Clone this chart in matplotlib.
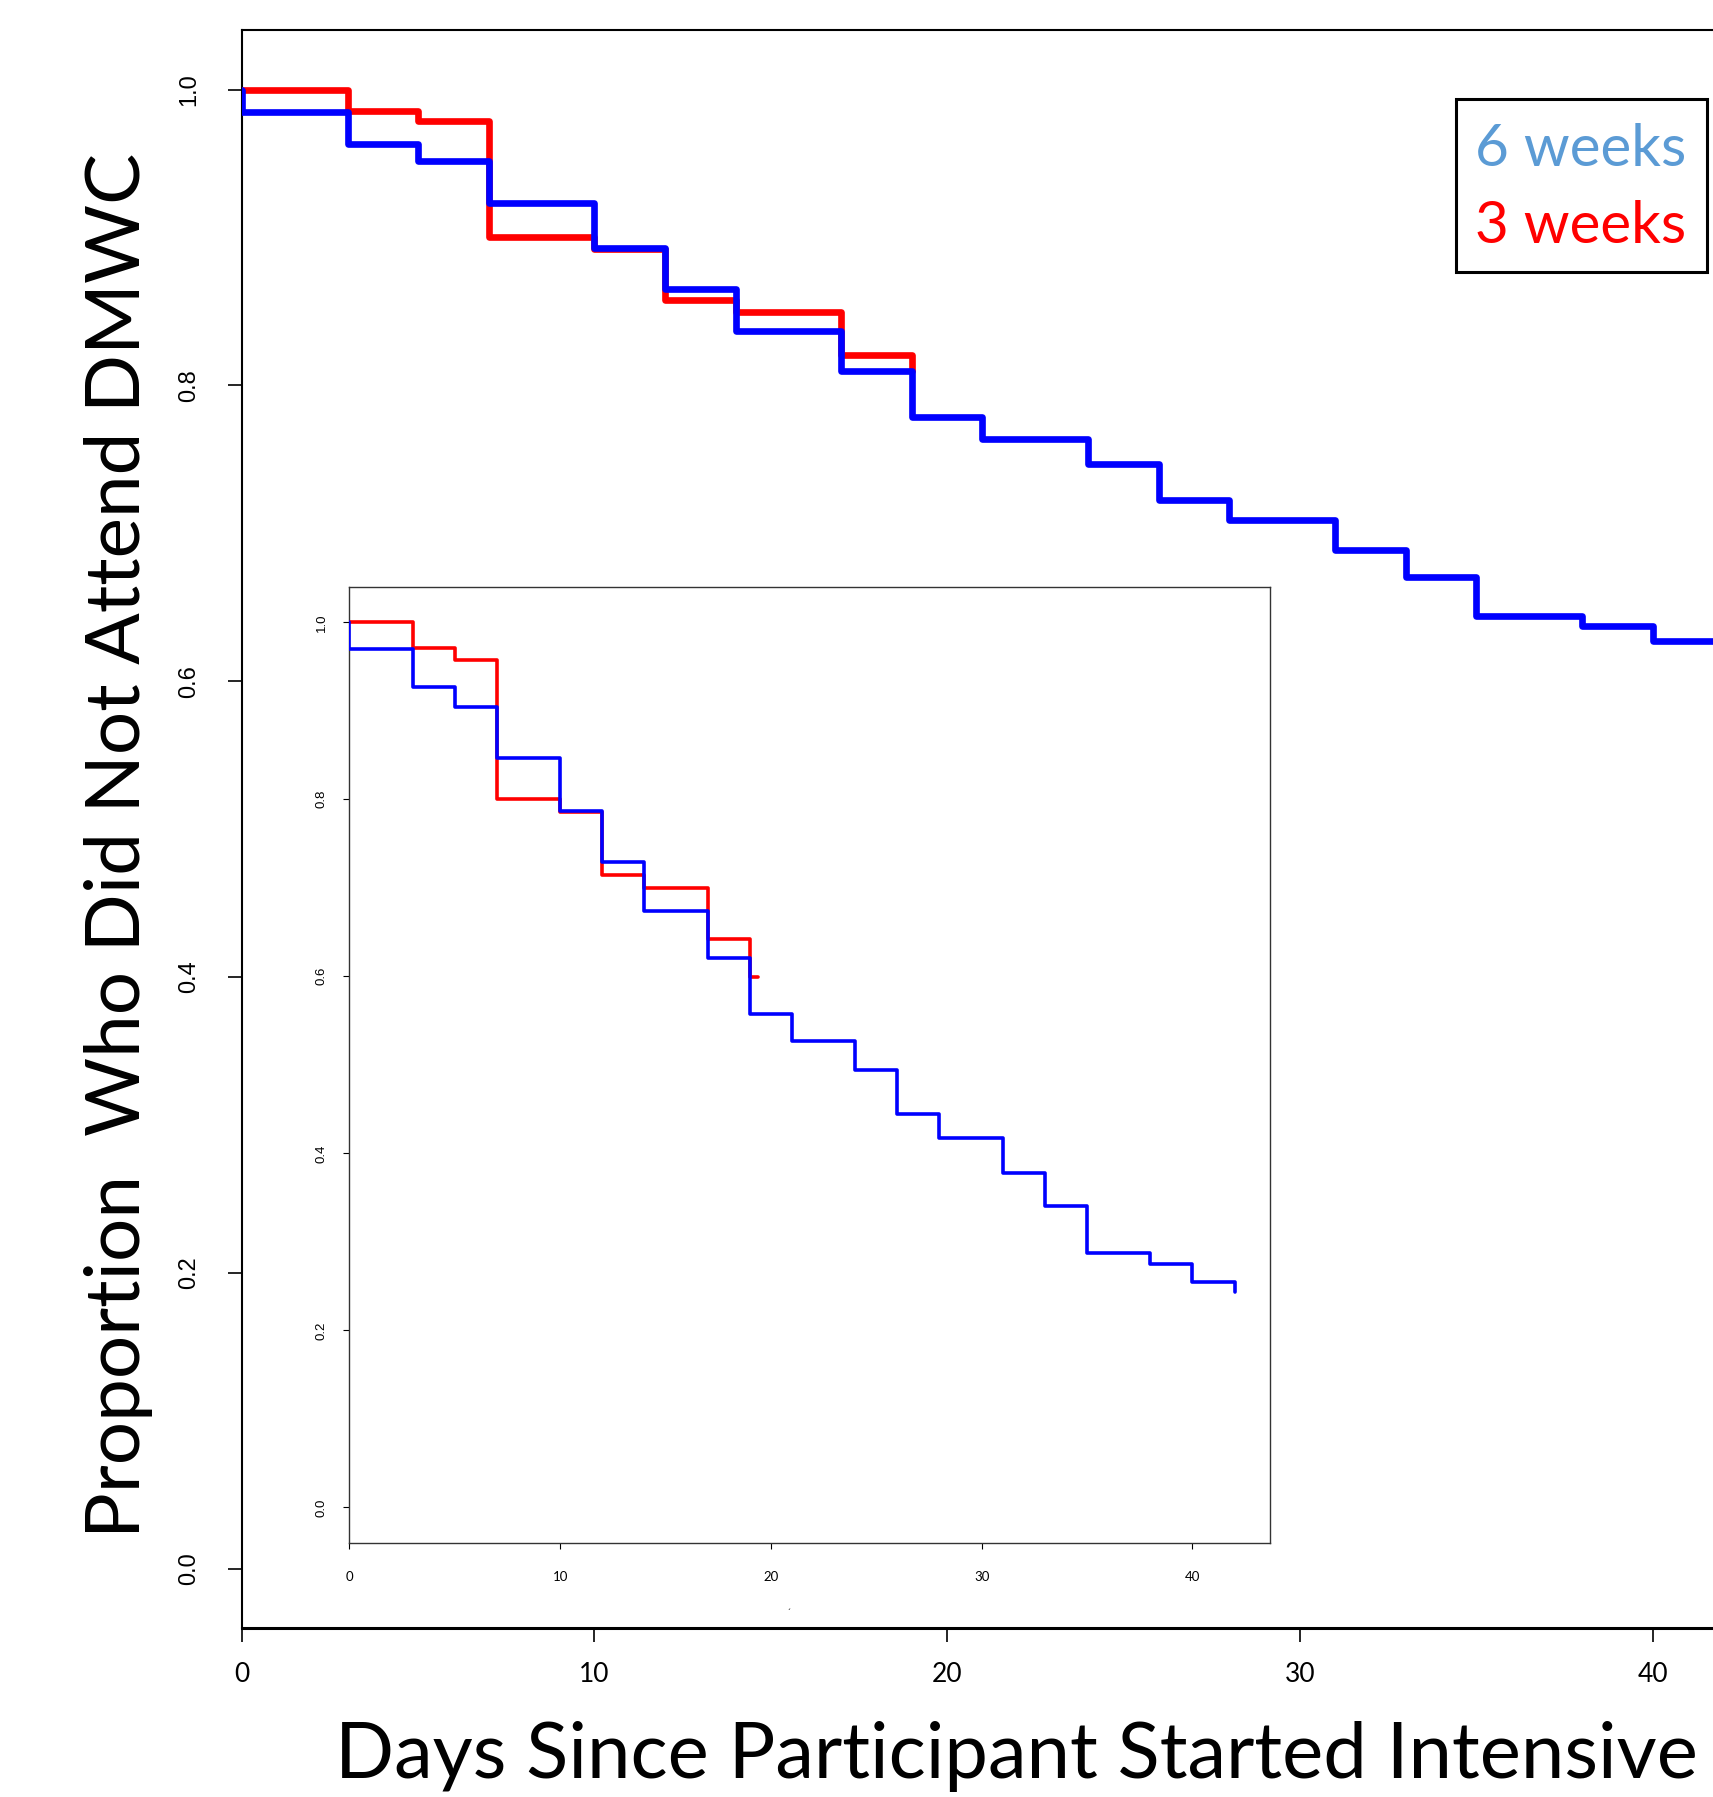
import matplotlib
matplotlib.use("Agg")
import matplotlib.pyplot as plt
from matplotlib.patches import Rectangle

# main panel: Kaplan-Meier style step curves (days, proportion not attending)
blue_days = [0, 0, 3, 5, 7, 10, 12, 14, 17, 19, 21, 24, 26, 28, 31, 33, 35, 38, 40, 42]
blue_surv = [1.0, 0.985, 0.9635, 0.9515, 0.9234, 0.893, 0.865, 0.8365, 0.810, 0.7787,
             0.7634, 0.7467, 0.7224, 0.7088, 0.689, 0.6705, 0.6439, 0.6372, 0.627, 0.622]
red_days = [0, 3, 5, 7, 10, 12, 14, 17, 19]
red_surv = [1.0, 0.9858, 0.9786, 0.9004, 0.8925, 0.8576, 0.8497, 0.8208, 0.81]

# inset panel (pasted smaller plot)
inset_blue_days = [0, 0, 3, 5, 7, 10, 12, 14, 17, 19, 21, 24, 26, 28, 31, 33, 35, 38, 40, 42]
inset_blue_surv = [1.0, 0.970, 0.9273, 0.904, 0.8463, 0.787, 0.7295, 0.6738, 0.621, 0.5574,
                   0.527, 0.4941, 0.444, 0.4169, 0.3774, 0.3404, 0.2877, 0.2746, 0.2542, 0.2436]
inset_red_days = [0, 3, 5, 7, 10, 12, 14, 17, 19, 19.4]
inset_red_surv = [1.0, 0.9713, 0.9574, 0.800, 0.786, 0.7145, 0.6994, 0.6421, 0.5996, 0.5996]

x_ticks = [0, 10, 20, 30, 40]
y_ticks = [0.0, 0.2, 0.4, 0.6, 0.8, 1.0]
y_tick_labels = ["0.0", "0.2", "0.4", "0.6", "0.8", "1.0"]

legend_labels = ["6 weeks", "3 weeks"]
legend_colors = ["#5B9BD5", "#FF0000"]

RED = "#FF0000"
BLUE = "#0000FF"

fig = plt.figure(figsize=(17.13, 17.97), dpi=100)

# main axes runs off the right edge like the cropped original
ax = fig.add_axes([0.1411, 0.0942, 0.8994, 0.8889])
line_kw = dict(where="post", solid_joinstyle="round", solid_capstyle="round")
ax.step(red_days, red_surv, color=RED, lw=4.8, zorder=3, **line_kw)
ax.step(blue_days, blue_surv, color=BLUE, lw=4.8, zorder=4, **line_kw)
ax.set_xlim(0, 43.68)
ax.set_ylim(-0.04, 1.04)
ax.set_xticks(x_ticks)
ax.set_xticklabels([str(t) for t in x_ticks], fontsize=19, family="Lato")
ax.set_yticks(y_ticks)
ax.set_yticklabels(y_tick_labels, rotation=90, va="center", fontsize=17,
                   family="Liberation Sans")
ax.tick_params(axis="x", length=10, width=1.2, pad=15)
ax.tick_params(axis="y", length=10, width=1.2, pad=20)
for side in ["left", "top"]:
    ax.spines[side].set_linewidth(1.5)
ax.spines["bottom"].set_linewidth(2.2)
ax.spines["right"].set_visible(False)

# inset
axi = fig.add_axes([0.2039, 0.1415, 0.5375, 0.5319])
axi.set_facecolor("white")
axi.step(inset_red_days, inset_red_surv, color=RED, lw=2.6, zorder=3, **line_kw)
axi.step(inset_blue_days, inset_blue_surv, color=BLUE, lw=2.6, zorder=4, **line_kw)
axi.set_xlim(0, 43.68)
axi.set_ylim(-0.04, 1.04)
axi.set_xticks(x_ticks)
axi.set_xticklabels([str(t) for t in x_ticks], fontsize=9.5, family="Lato")
axi.set_yticks(y_ticks)
axi.set_yticklabels(y_tick_labels, rotation=90, va="center", fontsize=9.5,
                    family="Liberation Sans")
axi.tick_params(axis="x", length=4.5, width=0.8, pad=16)
axi.tick_params(axis="y", length=4.5, width=0.8, pad=11)
for side in axi.spines:
    axi.spines[side].set_linewidth(1.0)
    axi.spines[side].set_color("#333333")

# stray mark left over under the inset
fig.text(789 / 1713, 1 - 1614 / 1797, "\u02ca", fontsize=6, ha="center", va="center")

# axis titles
fig.text(1016 / 1713, 19 / 1797, "Days Since Participant Started Intensive",
         fontsize=56, family="Lato", ha="center", va="baseline")
fig.text(140 / 1713, 1 - 845 / 1797, "Proportion  Who Did Not Attend DMWC",
         fontsize=55, family="Lato", rotation=90, rotation_mode="anchor",
         ha="center", va="baseline")

# legend box
fig.patches.append(Rectangle((1455.5 / 1713, 1 - 272.3 / 1797), 251 / 1713, 173.5 / 1797,
                             transform=fig.transFigure, fill=False,
                             edgecolor="black", lw=2.2))
fig.text(1475 / 1713, 1 - 166 / 1797, legend_labels[0], color=legend_colors[0],
         fontsize=42, family="Lato", ha="left", va="baseline")
fig.text(1475 / 1713, 1 - 243.3 / 1797, legend_labels[1], color=legend_colors[1],
         fontsize=42, family="Lato", ha="left", va="baseline")

fig.savefig("out.png", dpi=100)
